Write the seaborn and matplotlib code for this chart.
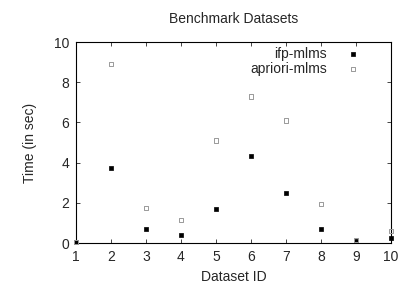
import matplotlib
matplotlib.use("Agg")
import matplotlib.pyplot as plt
import pandas as pd
import seaborn as sns

# Data
dataset_ids = [1, 2, 3, 4, 5, 6, 7, 8, 9, 10]
ifp_mlms = [0.05, 3.73, 0.70, 0.40, 1.70, 4.35, 2.50, 0.72, 0.08, 0.25]
apriori_mlms = [0.05, 8.90, 1.73, 1.15, 5.10, 7.30, 6.10, 1.93, 0.15, 0.60]

df = pd.DataFrame({"id": dataset_ids, "ifp": ifp_mlms, "apriori": apriori_mlms})

sns.set_style("ticks")
plt.rcParams["font.family"] = ["Liberation Sans", "DejaVu Sans"]
plt.rcParams["font.size"] = 10

fig = plt.figure(figsize=(4.11, 2.88), dpi=100)
ax = fig.add_axes([0.185, 0.156, 0.766, 0.698])

sns.scatterplot(data=df, x="id", y="ifp", ax=ax, marker="s", s=10,
                color="black", edgecolor="black", linewidth=0.5,
                label="ifp-mlms", clip_on=False, zorder=3)
sns.scatterplot(data=df, x="id", y="apriori", ax=ax, marker="s", s=10,
                facecolor="none", edgecolor="#999999", linewidth=0.7,
                label="apriori-mlms", clip_on=False, zorder=3)

ax.set_xlim(1, 10)
ax.set_ylim(0, 10)
ax.set_xticks(dataset_ids)
ax.set_yticks([0, 2, 4, 6, 8, 10])
ax.tick_params(direction="in", top=True, right=True, length=3, width=0.6,
               pad=5, labelsize=10)
for s in ax.spines.values():
    s.set_linewidth(0.8)
    s.set_color("black")

ax.set_title("Benchmark Datasets", pad=14, fontsize=10)
ax.set_xlabel("Dataset ID", fontsize=10)
ax.set_ylabel("Time (in sec)", fontsize=10, labelpad=12)

ax.legend(loc="upper right", frameon=False, markerfirst=False, handletextpad=0.9,
          borderaxespad=0.0, borderpad=0.35, labelspacing=0.05, fontsize=10,
          bbox_to_anchor=(0.94, 1.0))

fig.savefig("out.png", dpi=100)
